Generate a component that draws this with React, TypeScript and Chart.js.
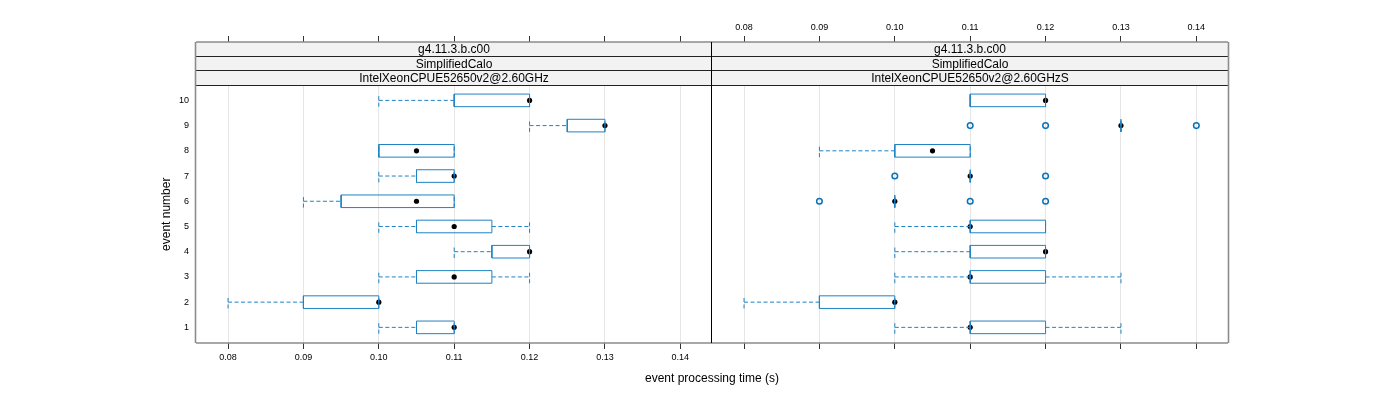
import { useEffect, useRef } from "react";
import { Chart, registerables } from "chart.js";

Chart.register(...registerables);

// ---------- data ----------
const EVENTS = [1, 2, 3, 4, 5, 6, 7, 8, 9, 10];
const X_TICKS = [0.08, 0.09, 0.1, 0.11, 0.12, 0.13, 0.14];

const STRIPS_LEFT = ["g4.11.3.b.c00", "SimplifiedCalo", "IntelXeonCPUE52650v2@2.60GHz"];
const STRIPS_RIGHT = ["g4.11.3.b.c00", "SimplifiedCalo", "IntelXeonCPUE52650v2@2.60GHzS"];

const X_TITLE = "event processing time (s)";
const Y_TITLE = "event number";

// left panel (IntelXeonCPUE52650v2@2.60GHz), rows = events 1..10
const L_LOW = [0.1, 0.08, 0.1, 0.11, 0.1, 0.09, 0.1, 0.1, 0.12, 0.1];
const L_Q1 = [0.105, 0.09, 0.105, 0.115, 0.105, 0.095, 0.105, 0.1, 0.125, 0.11];
const L_MED = [0.11, 0.1, 0.11, 0.12, 0.11, 0.105, 0.11, 0.105, 0.13, 0.12];
const L_Q3 = [0.11, 0.1, 0.115, 0.12, 0.115, 0.11, 0.11, 0.11, 0.13, 0.12];
const L_HIGH = [0.11, 0.1, 0.12, 0.12, 0.12, 0.11, 0.11, 0.11, 0.13, 0.12];
const L_OUT: number[][] = [[], [], [], [], [], [], [], [], [], []];

// right panel (IntelXeonCPUE52650v2@2.60GHzS)
const R_LOW = [0.1, 0.08, 0.1, 0.1, 0.1, 0.1, 0.11, 0.09, 0.13, 0.11];
const R_Q1 = [0.11, 0.09, 0.11, 0.11, 0.11, 0.1, 0.11, 0.1, 0.13, 0.11];
const R_MED = [0.11, 0.1, 0.11, 0.12, 0.11, 0.1, 0.11, 0.105, 0.13, 0.12];
const R_Q3 = [0.12, 0.1, 0.12, 0.12, 0.12, 0.1, 0.11, 0.11, 0.13, 0.12];
const R_HIGH = [0.13, 0.1, 0.13, 0.12, 0.12, 0.1, 0.11, 0.11, 0.13, 0.12];
const R_OUT: number[][] = [[], [], [], [], [], [0.09, 0.11, 0.12], [0.1, 0.12], [], [0.11, 0.12, 0.14], []];

// ---------- styling / layout ----------
const X_MIN = 0.07575;
const X_MAX = 0.1442;
const Y_MIN = 0.38;
const Y_PANEL_MAX = 10.59;
const STRIP_PX = 43.5;
const PANEL_PX = 257.5;
const Y_MAX = Y_PANEL_MAX + ((Y_PANEL_MAX - Y_MIN) * STRIP_PX) / PANEL_PX;
const BOX_HALF = 0.25;

const FONT = '"Liberation Sans", Arial, Helvetica, sans-serif';
const BOX_COLOR = "#1f82c4";
const OUT_COLOR = "#0a72b8";
const GRID_COLOR = "#e6e6e6";
const TICK_COLOR = "#333";
const FRAME_COLOR = "#8c8c8c";

type P = { x: number | null; y: number | null };
const gap = (): P => ({ x: null, y: null });

function buildDatasets(low: number[], q1: number[], med: number[], q3: number[], high: number[], out: number[][]) {
  const whisk: P[] = [];
  const box: P[] = [];
  const meds: P[] = [];
  const outs: P[] = [];
  EVENTS.forEach((e, i) => {
    whisk.push({ x: low[i], y: e }, { x: q1[i], y: e }, gap());
    whisk.push({ x: q3[i], y: e }, { x: high[i], y: e }, gap());
    whisk.push({ x: low[i], y: e - BOX_HALF }, { x: low[i], y: e + BOX_HALF }, gap());
    whisk.push({ x: high[i], y: e - BOX_HALF }, { x: high[i], y: e + BOX_HALF }, gap());
    box.push(
      { x: q1[i], y: e - BOX_HALF },
      { x: q3[i], y: e - BOX_HALF },
      { x: q3[i], y: e + BOX_HALF },
      { x: q1[i], y: e + BOX_HALF },
      { x: q1[i], y: e - BOX_HALF },
      gap()
    );
    meds.push({ x: med[i], y: e });
    out[i].forEach((v) => outs.push({ x: v, y: e }));
  });
  return [
    {
      data: whisk,
      showLine: true,
      spanGaps: false,
      borderColor: BOX_COLOR,
      borderWidth: 1,
      borderDash: [4, 2.5],
      pointRadius: 0,
    },
    {
      data: box,
      showLine: true,
      spanGaps: false,
      borderColor: BOX_COLOR,
      borderWidth: 1,
      pointRadius: 0,
    },
    {
      data: outs,
      showLine: false,
      pointRadius: 2.8,
      pointBorderWidth: 1.5,
      pointBorderColor: OUT_COLOR,
      pointBackgroundColor: "rgba(0,0,0,0)",
    },
    {
      data: meds,
      showLine: false,
      pointRadius: 2.6,
      pointBorderWidth: 0,
      pointBackgroundColor: "#000",
      pointBorderColor: "#000",
    },
  ];
}

function makeDecor(strips: string[], isLeft: boolean) {
  return {
    id: "decor" + (isLeft ? "L" : "R"),
    afterDraw(chart: any) {
      const { ctx, chartArea: a, scales } = chart;
      const stripBottom = scales.y.getPixelForValue(Y_PANEL_MAX);
      const sh = (stripBottom - a.top) / strips.length;
      ctx.save();
      strips.forEach((s, k) => {
        const y0 = a.top + k * sh;
        ctx.fillStyle = "#f2f2f2";
        ctx.fillRect(a.left, y0, a.right - a.left, sh);
        ctx.fillStyle = "#000";
        ctx.font = `12px ${FONT}`;
        ctx.textAlign = "center";
        ctx.textBaseline = "middle";
        ctx.fillText(s, (a.left + a.right) / 2, y0 + sh / 2 + 0.5);
      });
      ctx.strokeStyle = "#222";
      ctx.lineWidth = 1;
      ctx.beginPath();
      for (let k = 1; k <= strips.length; k++) {
        const yy = Math.round(a.top + k * sh) - 0.5;
        ctx.moveTo(a.left, yy);
        ctx.lineTo(a.right, yy);
      }
      ctx.stroke();
      // outer frame
      ctx.strokeStyle = FRAME_COLOR;
      ctx.lineWidth = 1.6;
      ctx.beginPath();
      ctx.moveTo(a.left, a.top);
      ctx.lineTo(a.right, a.top);
      ctx.moveTo(a.left, a.bottom);
      ctx.lineTo(a.right, a.bottom);
      if (isLeft) {
        ctx.moveTo(a.left - 0.5, a.top);
        ctx.lineTo(a.left - 0.5, a.bottom);
      } else {
        ctx.moveTo(a.right + 0.5, a.top);
        ctx.lineTo(a.right + 0.5, a.bottom);
      }
      ctx.stroke();
      // divider between panels
      ctx.strokeStyle = "#000";
      ctx.lineWidth = 1;
      ctx.beginPath();
      const mid = isLeft ? a.right - 0.5 : a.left - 0.5;
      ctx.moveTo(mid, a.top);
      ctx.lineTo(mid, a.bottom);
      ctx.stroke();
      if (isLeft) {
        ctx.fillStyle = "#000";
        ctx.font = `12px ${FONT}`;
        ctx.textAlign = "center";
        ctx.textBaseline = "middle";
        ctx.fillText(X_TITLE, a.right, 379);
        ctx.save();
        ctx.translate(167, (stripBottom + a.bottom) / 2);
        ctx.rotate(-Math.PI / 2);
        ctx.fillText(Y_TITLE, 0, 0);
        ctx.restore();
      }
      ctx.restore();
    },
  };
}

function makeConfig(isLeft: boolean) {
  const ds = isLeft
    ? buildDatasets(L_LOW, L_Q1, L_MED, L_Q3, L_HIGH, L_OUT)
    : buildDatasets(R_LOW, R_Q1, R_MED, R_Q3, R_HIGH, R_OUT);
  const setXTicks = (s: any) => {
    s.ticks = X_TICKS.map((v) => ({ value: v }));
  };
  return {
    type: "scatter",
    data: { datasets: ds },
    options: {
      animation: false,
      responsive: false,
      devicePixelRatio: 1,
      events: [],
      layout: {
        padding: isLeft ? { left: 0, right: 688, top: 0, bottom: 0 } : { left: 712, right: 172, top: 0, bottom: 0 },
      },
      plugins: { legend: { display: false }, tooltip: { enabled: false } },
      scales: {
        x: {
          type: "linear",
          position: "bottom",
          min: X_MIN,
          max: X_MAX,
          afterBuildTicks: setXTicks,
          afterFit: (s: any) => {
            s.height = 57;
          },
          border: { display: false },
          grid: {
            display: true,
            drawOnChartArea: true,
            color: GRID_COLOR,
            lineWidth: 1,
            drawTicks: true,
            tickLength: 6,
            tickColor: TICK_COLOR,
          },
          ticks: {
            display: isLeft,
            padding: 3,
            color: "#000",
            font: { family: FONT, size: 9 },
            maxRotation: 0,
            autoSkip: false,
            callback: (v: any) => Number(v).toFixed(2),
          },
        },
        xTop: {
          type: "linear",
          position: "top",
          min: X_MIN,
          max: X_MAX,
          afterBuildTicks: setXTicks,
          afterFit: (s: any) => {
            s.height = 42;
          },
          border: { display: false },
          grid: {
            display: true,
            drawOnChartArea: false,
            drawTicks: true,
            tickLength: 6,
            tickColor: TICK_COLOR,
          },
          ticks: {
            display: !isLeft,
            padding: 3,
            color: "#000",
            font: { family: FONT, size: 9 },
            maxRotation: 0,
            autoSkip: false,
            callback: (v: any) => Number(v).toFixed(2),
          },
        },
        y: {
          type: "linear",
          display: isLeft,
          min: Y_MIN,
          max: Y_MAX,
          afterBuildTicks: (s: any) => {
            s.ticks = EVENTS.map((v) => ({ value: v }));
          },
          afterFit: (s: any) => {
            s.width = isLeft ? 196 : 0;
          },
          border: { display: false },
          grid: { display: false, drawTicks: false },
          ticks: {
            padding: 7,
            color: "#000",
            font: { family: FONT, size: 9 },
            autoSkip: false,
            callback: (v: any) => String(v),
          },
        },
      },
    },
    plugins: [makeDecor(isLeft ? STRIPS_LEFT : STRIPS_RIGHT, isLeft)],
  };
}

export default function App() {
  const leftRef = useRef<HTMLCanvasElement>(null);
  const rightRef = useRef<HTMLCanvasElement>(null);
  useEffect(() => {
    const c1 = new Chart(leftRef.current as HTMLCanvasElement, makeConfig(true) as any);
    const c2 = new Chart(rightRef.current as HTMLCanvasElement, makeConfig(false) as any);
    return () => {
      c1.destroy();
      c2.destroy();
    };
  }, []);
  const cs: any = { position: "absolute", left: 0, top: 0, width: "1400px", height: "400px" };
  return (
    <div style={{ position: "fixed", left: 0, top: 0, width: 1400, height: 400, background: "#fff" }}>
      <canvas ref={leftRef} width={1400} height={400} style={cs} />
      <canvas ref={rightRef} width={1400} height={400} style={cs} />
    </div>
  );
}
